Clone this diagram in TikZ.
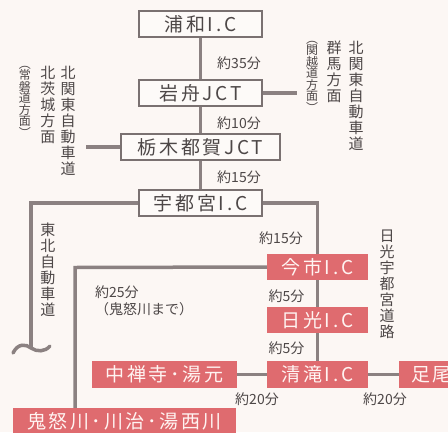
\documentclass[tikz,border=0pt]{standalone}
\usepackage{fontspec}
\setmainfont{Noto Sans CJK JP}
\definecolor{bg}{HTML}{FCF7F4}
\definecolor{ln}{HTML}{8B8181}
\definecolor{bd}{HTML}{7A7171}
\definecolor{wf}{HTML}{FDFAF8}
\definecolor{rd}{HTML}{DF6B6F}
\definecolor{tx}{HTML}{4D4747}
\definecolor{rt}{HTML}{FFF4F2}
\tikzset{
  wbox/.style={draw=bd, line width=1.4pt, fill=wf, minimum height=26pt, inner sep=0pt, text=tx,
    font=\fontsize{19}{20}\selectfont\addfontfeature{LetterSpace=14}},
  rbox/.style={fill=rd, minimum height=26pt, inner sep=0pt, text=rt,
    font=\fontsize{19}{20}\selectfont\addfontfeature{LetterSpace=14}},
  road/.style={draw=ln, line width=3.5pt},
  lbl/.style={text=tx, inner sep=0pt, font=\fontsize{14}{17}\selectfont},
  vtxt/.style={text=tx, inner sep=0pt, anchor=north, align=center, font=\fontsize{15}{16}\selectfont},
  vsml/.style={text=tx, inner sep=0pt, anchor=north, align=center, font=\fontsize{12}{11.5}\selectfont},
}
\begin{document}
\begin{tikzpicture}[x=1pt,y=-1pt]
\path[fill=bg] (0,0) rectangle (448,432);
\useasboundingbox (0,0) rectangle (448,432);
\begin{scope}
\clip (0,0) rectangle (448,432);
\coordinate (gunma) at (297,93);
\coordinate (ibaraki) at (86,147);
\coordinate (tohoku) at (31,348);
\coordinate (kturn) at (75,267.5);
\node[wbox, minimum width=123pt] (urawa) at (200.5,24) {浦和I.C};
\node[wbox, minimum width=123pt] (iwafune) at (200.5,93) {岩舟JCT};
\node[wbox, minimum width=159pt] (tochigi) at (200.5,147) {栃木都賀JCT};
\node[wbox, minimum width=123pt] (utsu) at (200.5,203) {宇都宮I.C};
\node[rbox, minimum width=101pt] (imaichi) at (317.5,267) {今市I.C};
\node[rbox, minimum width=101pt] (nikko) at (317.5,320) {日光I.C};
\node[rbox, minimum width=101pt, minimum height=27pt] (kiyotaki) at (317.5,374.5) {清滝I.C};
\node[rbox, minimum width=145pt, minimum height=27pt] (chuzenji) at (164.5,374.5) {中禅寺･湯元};
\node[rbox, anchor=west, minimum height=27pt, inner xsep=12pt, text width=77pt, align=left] (ashio) at (399,374.5) {足尾};
\node[rbox, minimum width=223pt] (kinu) at (124.5,421) {鬼怒川･川治･湯西川};
\draw[road] (urawa.south) -- (iwafune.north);
\draw[road] (iwafune.south) -- (tochigi.north);
\draw[road] (tochigi.south) -- (utsu.north);
\draw[road] (iwafune.east) -- (gunma);
\draw[road] (tochigi.west) -- (ibaraki);
\draw[road] (utsu.west) -| (tohoku);
\draw[road, line cap=round] (13,353) .. controls (18,343) and (26,344) .. (tohoku) .. controls (37,352) and (45,352) .. (50,346);
\draw[road] (utsu.east) -| (imaichi.north);
\draw[road] (imaichi.south) -- (nikko.north);
\draw[road] (nikko.south) -- (kiyotaki.north);
\draw[road] (imaichi.west) -- (kturn) -- (kturn |- kinu.north);
\draw[road] (kiyotaki.west) -- (chuzenji.east);
\draw[road] (kiyotaki.east) -- (ashio.west);
\end{scope}
\node[lbl] (t1) at (239,63) {約35分};
\node[lbl] (t2) at (239,123) {約10分};
\node[lbl] (t3) at (239,177) {約15分};
\node[lbl] (t4) at (281,238) {約15分};
\node[lbl] (t5) at (286.5,296) {約5分};
\node[lbl] (t6) at (286.5,348) {約5分};
\node[lbl] (t7) at (257,399) {約20分};
\node[lbl] (t8) at (385,399) {約20分};
\node[lbl, anchor=west, align=left] (t9) at (95,301) {約25分\\（鬼怒川まで）};
\node[vtxt] (v1) at (356,41) {北\\関\\東\\自\\動\\車\\道};
\node[vtxt] (v2) at (334,41) {群\\馬\\方\\面};
\node[vsml] (v3) at (312,41) {︵\\関\\越\\道\\方\\面\\︶};
\node[vtxt] (v4) at (68,66) {北\\関\\東\\自\\動\\車\\道};
\node[vtxt] (v5) at (48,66) {北\\茨\\城\\方\\面};
\node[vsml] (v6) at (25,66) {︵\\常\\磐\\道\\方\\面\\︶};
\node[vtxt] (v7) at (48,223) {東\\北\\自\\動\\車\\道};
\node[vtxt] (v8) at (387,230) {日\\光\\宇\\都\\宮\\道\\路};
\end{tikzpicture}
\end{document}
